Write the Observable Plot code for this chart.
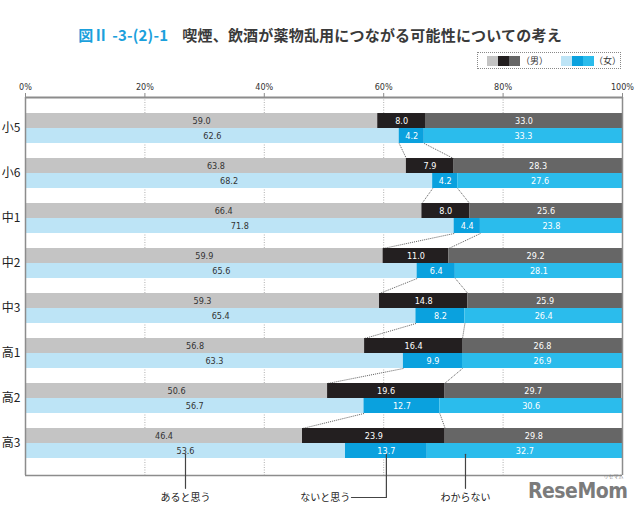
<!DOCTYPE html>
<html><head><meta charset="utf-8">
<script src="https://cdn.jsdelivr.net/npm/d3@7"></script>
<script src="https://cdn.jsdelivr.net/npm/@observablehq/plot@0.6"></script>
<style>
body{margin:0;background:#fff;font-family:"Noto Sans CJK JP",sans-serif;}
#wrap{position:relative;width:640px;height:514px;overflow:hidden;}
#title{position:absolute;top:24px;left:0;width:640px;text-align:center;font-size:15px;font-weight:bold;color:#3a3a3a;white-space:nowrap;letter-spacing:0.2px;}
#title .num{color:#1ba0dc;margin-right:14px;}
#legend{position:absolute;left:477px;top:52px;width:144px;height:17px;border:1px dotted #888;box-sizing:border-box;}
#legend .sw{position:absolute;top:3px;width:11px;height:10px;}
#legend .lt{position:absolute;top:0px;font-size:9px;line-height:15px;color:#333;}
#chart{position:absolute;left:0;top:76px;}
#logo{position:absolute;left:528px;top:478px;font-family:"DejaVu Sans Condensed","Liberation Sans Narrow",sans-serif;font-weight:bold;font-size:21px;color:#7b7b7b;letter-spacing:-0.5px;line-height:26px;}
#logo small{position:absolute;right:4px;top:-5px;font-size:5px;font-family:"Noto Sans CJK JP";color:#888;letter-spacing:0;line-height:6px;font-weight:normal;}
</style></head>
<body><div id="wrap">
<div id="title"><span class="num">図Ⅱ -3-(2)-1</span>喫煙、飲酒が薬物乱用につながる可能性についての考え</div>
<div id="legend"></div>
<div id="chart"></div>
<div id="logo">ReseMom<small>リセマム</small></div>
</div>
<script>
// ---- data ----
const groups = ["小5","小6","中1","中2","中3","高1","高2","高3"];
const maleYes   = [59.0,63.8,66.4,59.9,59.3,56.8,50.6,46.4];
const maleNo    = [8.0,7.9,8.0,11.0,14.8,16.4,19.6,23.9];
const maleDk    = [33.0,28.3,25.6,29.2,25.9,26.8,29.7,29.8];
const femaleYes = [62.6,68.2,71.8,65.6,65.4,63.3,56.7,53.6];
const femaleNo  = [4.2,4.2,4.4,6.4,8.2,9.9,12.7,13.7];
const femaleDk  = [33.3,27.6,23.8,28.1,26.4,26.9,30.6,32.7];
const answers = ["あると思う","ないと思う","わからない"];
const sexes = ["（男）","（女）"];
const xTicks = [0,20,40,60,80,100];
// annotation positions (percent) below the chart
const annoTextX = [26.8, 50.2, 73.7];
const annoLineX = [26.8, 60.45, 73.7];
const annoElbowX = [null, 54.6, null];

const maleColors = ["#c4c4c4","#231f20","#666666"];
const femaleColors = ["#bde4f6","#0aa1de","#2bbcec"];
const textColors = ["#333333","#ffffff","#ffffff"];

// ---- legend ----
const lg = document.getElementById("legend");
const addSw = (left,c)=>{const s=document.createElement("div");s.className="sw";s.style.left=left+"px";s.style.background=c;lg.appendChild(s);};
maleColors.forEach((c,i)=>addSw(9+i*11,c));
femaleColors.forEach((c,i)=>addSw(83+i*11,c));
const addT=(left,t)=>{const s=document.createElement("div");s.className="lt";s.style.left=left+"px";s.textContent=t;lg.appendChild(s);};
addT(43,sexes[0]); addT(116,sexes[1]);

// ---- layout in row units ----
const BAR = 1/3;
const TOP = -0.356, BOTTOM = 8.044;
const condensed = '"Liberation Sans Narrow","DejaVu Sans Condensed",sans-serif';

const segs = [];
const cumM = [], cumF = [];
groups.forEach((g,i)=>{
  const sets = [[maleYes[i],maleNo[i],maleDk[i]],[femaleYes[i],femaleNo[i],femaleDk[i]]];
  sets.forEach((vals,s)=>{
    let c = 0; const cum=[0];
    vals.forEach((v,k)=>{
      const x1=c, x2=Math.min(100,c+v);
      segs.push({group:g, sex:sexes[s], k, value:v, x1, x2, y1:i+s*BAR, y2:i+(s+1)*BAR,
        fill:(s===0?maleColors:femaleColors)[k], tf:textColors[k]});
      c+=v; cum.push(c);
    });
    (s===0?cumM:cumF).push(cum);
  });
});
const links = [];
for(let i=0;i<groups.length-1;i++){
  for(const k of [1,2]){
    links.push({x1:cumF[i][k], y1:i+2*BAR, x2:cumM[i+1][k], y2:i+1});
  }
}
const last = groups.length-1;
const annos = answers.map((a,j)=>({label:a, tx:annoTextX[j], lx:annoLineX[j], ex:annoElbowX[j]}));
const leaderPts = [];
annos.forEach((a,j)=>{
  const yEnd = a.ex==null ? 8.33 : 8.533;
  leaderPts.push({id:j,x:a.lx,y:last+2*BAR-0.095});
  leaderPts.push({id:j,x:a.lx,y:yEnd});
  if(a.ex!=null) leaderPts.push({id:j,x:a.ex,y:yEnd});
});

const chart = Plot.plot({
  width:640, height:438,
  marginLeft:25, marginRight:18, marginTop:21, marginBottom:5,
  x:{domain:[0,100]},
  y:{domain:[TOP,8.8], reverse:true, axis:null},
  style:{fontFamily:condensed, background:"transparent"},
  marks:[
    Plot.ruleX(xTicks.slice(1,-1),{y1:TOP,y2:BOTTOM,stroke:"#9a9a9a",strokeWidth:0.8,strokeDasharray:"1,1.5"}),
    Plot.rect(segs,{x1:"x1",x2:"x2",y1:"y1",y2:"y2",fill:"fill"}),
    Plot.text(segs,{x:d=>(d.x1+d.x2)/2,y:d=>(d.y1+d.y2)/2,text:d=>d.value.toFixed(1),fill:"tf",fontSize:9}),
    Plot.link(links,{x1:"x1",y1:"y1",x2:"x2",y2:"y2",stroke:"#333",strokeWidth:0.8,strokeDasharray:"1,1"}),
    Plot.ruleX([0,100],{y1:TOP,y2:BOTTOM,stroke:"#8c8c8c",strokeWidth:1.5}),
    Plot.ruleY([BOTTOM],{x1:0,x2:100,stroke:"#8c8c8c",strokeWidth:1.5}),
    Plot.ruleY([TOP],{x1:0,x2:100,stroke:"#8c8c8c",strokeWidth:2}),
    Plot.axisX(xTicks,{anchor:"top",tickSize:5,tickPadding:3,tickFormat:d=>d+"%",fontSize:9,stroke:"#8c8c8c",fill:"#333",label:null}),
    Plot.text(groups,{x:0,y:(d,i)=>i+BAR,text:d=>d,textAnchor:"end",dx:-5,fontSize:12,fill:"#222",fontFamily:"Noto Sans CJK JP"}),
    Plot.line(leaderPts,{x:"x",y:"y",z:"id",stroke:"#444",strokeWidth:1.2}),
    Plot.text(annos,{x:"tx",y:8.533,text:"label",fontSize:10,fill:"#222",fontFamily:"Noto Sans CJK JP"})
  ]
});
document.getElementById("chart").appendChild(chart);
</script>
</body></html>
